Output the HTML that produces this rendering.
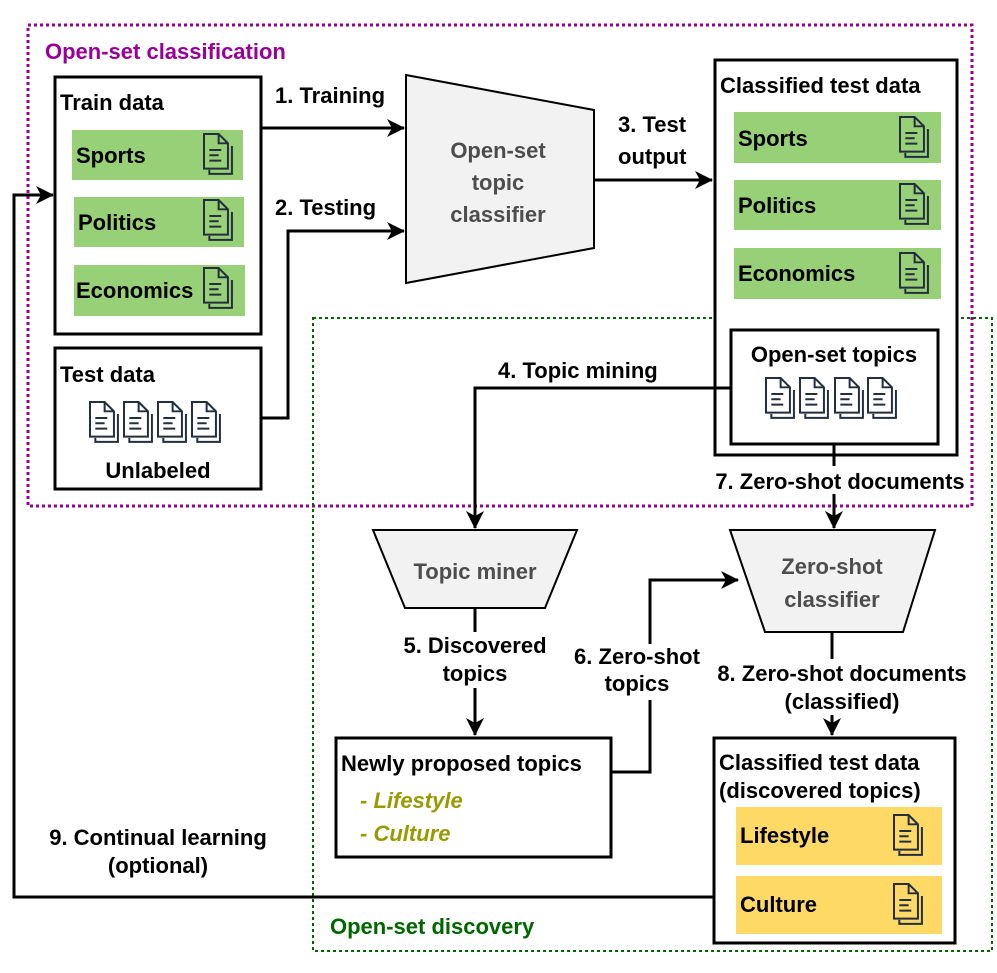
<!DOCTYPE html>
<html><head><meta charset="utf-8"><style>
body{margin:0;background:#fff}
svg{display:block;font-family:"Liberation Sans",sans-serif;font-weight:bold}
</style></head><body>
<svg width="997" height="973" viewBox="0 0 997 973" xmlns="http://www.w3.org/2000/svg">
<defs>
<marker id="ah2" markerWidth="18" markerHeight="18" refX="17" refY="9" orient="auto" markerUnits="userSpaceOnUse" viewBox="0 0 18 18"><path d="M0,0 L18,9 L0,18 L5,9z" fill="#000"/></marker>
<g id="doc">
<path fill="none" stroke="#232f3e" stroke-width="1.5" d="M0,0 H11 L18,7 V26 H0 Z"/><path fill="none" stroke="#232f3e" stroke-width="1.5" d="M11,0 V7 H18"/>
<path fill="none" stroke="#232f3e" stroke-width="1.5" d="M4,12 H13 M4,16 H11 M4,20 H13"/>
<path fill="none" stroke="#232f3e" stroke-width="1.5" d="M21,9 V30 H4 V27"/>
</g>
</defs>
<rect x="28" y="25" width="944" height="481" fill="none" stroke="#990099" stroke-width="3" stroke-dasharray="3,3"/>
<rect x="313" y="318" width="679" height="633" fill="none" stroke="#006600" stroke-width="2" stroke-dasharray="3,3"/>
<text x="45" y="59" font-size="22" fill="#990099">Open-set classification</text>
<text x="330" y="934" font-size="22" fill="#006600">Open-set discovery</text>

<g font-size="22" fill="#000">
<rect x="55" y="77" width="206" height="257" fill="#fff" stroke="#000" stroke-width="3"/>
<text x="60" y="110">Train data</text>
<rect x="72" y="130" width="171" height="50" fill="#97d077"/><text x="76" y="163">Sports</text><use href="#doc" transform="translate(204,134) scale(1.33)"/>
<rect x="74" y="197" width="170" height="50" fill="#97d077"/><text x="78" y="230">Politics</text><use href="#doc" transform="translate(204,200) scale(1.33)"/>
<rect x="74" y="265" width="171" height="51" fill="#97d077"/><text x="76" y="298">Economics</text><use href="#doc" transform="translate(204,268) scale(1.33)"/>
<rect x="55" y="348" width="206" height="141" fill="#fff" stroke="#000" stroke-width="3"/>
<text x="60" y="382">Test data</text>
<use href="#doc" transform="translate(90,402) scale(1.33)"/><use href="#doc" transform="translate(124,402) scale(1.33)"/><use href="#doc" transform="translate(158,402) scale(1.33)"/><use href="#doc" transform="translate(192,402) scale(1.33)"/>
<text x="158" y="478" text-anchor="middle">Unlabeled</text>

<path d="M406,75 L594,110 L594,248 L406,283 Z" fill="#f2f2f2" stroke="#000" stroke-width="2"/>
<g fill="#4d4d4d" text-anchor="middle"><text x="498" y="158">Open-set</text><text x="498" y="190">topic</text><text x="498" y="222">classifier</text></g>

<path d="M261,128 H404" stroke="#000" stroke-width="3" fill="none" marker-end="url(#ah2)"/>
<text x="275" y="103">1. Training</text>
<path d="M261,418 H288 V231 H404" stroke="#000" stroke-width="3" fill="none" marker-end="url(#ah2)"/>
<text x="275" y="215">2. Testing</text>
<path d="M594,180 H712" stroke="#000" stroke-width="3" fill="none" marker-end="url(#ah2)"/>
<text x="618" y="132">3. Test</text><text x="618" y="164">output</text>

<rect x="715" y="60" width="242" height="395" fill="#fff" stroke="#000" stroke-width="3"/>
<text x="720" y="93">Classified test data</text>
<rect x="734" y="112" width="207" height="51" fill="#97d077"/><text x="738" y="146">Sports</text><use href="#doc" transform="translate(900,117) scale(1.33)"/>
<rect x="734" y="180" width="207" height="50" fill="#97d077"/><text x="738" y="213">Politics</text><use href="#doc" transform="translate(900,184) scale(1.33)"/>
<rect x="734" y="248" width="207" height="51" fill="#97d077"/><text x="738" y="281">Economics</text><use href="#doc" transform="translate(900,253) scale(1.33)"/>
<rect x="731" y="330" width="207" height="114" fill="#fff" stroke="#000" stroke-width="3"/>
<text x="834" y="362" text-anchor="middle">Open-set topics</text>
<use href="#doc" transform="translate(766,378) scale(1.33)"/><use href="#doc" transform="translate(800,378) scale(1.33)"/><use href="#doc" transform="translate(835,378) scale(1.33)"/><use href="#doc" transform="translate(868,378) scale(1.33)"/>

<path d="M731,388 H475 V528" stroke="#000" stroke-width="3" fill="none" marker-end="url(#ah2)"/>
<text x="498" y="378">4. Topic mining</text>
<path d="M373,530 L577,530 L545,608 L405,608 Z" fill="#f2f2f2" stroke="#000" stroke-width="2"/>
<text x="475" y="579" text-anchor="middle" fill="#4d4d4d">Topic miner</text>
<path d="M475,608 V735" stroke="#000" stroke-width="3" fill="none" marker-end="url(#ah2)"/>
<rect x="392" y="632" width="166" height="56" fill="#fff"/>
<text x="475" y="653" text-anchor="middle">5. Discovered</text><text x="475" y="681" text-anchor="middle">topics</text>

<rect x="336" y="738" width="275" height="119" fill="#fff" stroke="#000" stroke-width="3"/>
<text x="341" y="771">Newly proposed topics</text>
<g fill="#999900" font-style="italic"><text x="360" y="808">- Lifestyle</text><text x="360" y="841">- Culture</text></g>

<path d="M611,772 H650 V580 H738" stroke="#000" stroke-width="3" fill="none" marker-end="url(#ah2)"/>
<rect x="570" y="644" width="134" height="56" fill="#fff"/>
<text x="637" y="664" text-anchor="middle">6. Zero-shot</text><text x="637" y="691" text-anchor="middle">topics</text>

<path d="M834,444 V528" stroke="#000" stroke-width="3" fill="none" marker-end="url(#ah2)"/>
<rect x="710" y="466" width="260" height="28" fill="#fff"/>
<text x="840" y="489" text-anchor="middle">7. Zero-shot documents</text>
<path d="M730,530 L935,530 L903,632 L765,632 Z" fill="#f2f2f2" stroke="#000" stroke-width="2"/>
<g fill="#4d4d4d" text-anchor="middle"><text x="832" y="574">Zero-shot</text><text x="832" y="607">classifier</text></g>

<path d="M832,632 V735" stroke="#000" stroke-width="3" fill="none" marker-end="url(#ah2)"/>
<rect x="712" y="659" width="260" height="56" fill="#fff"/>
<text x="842" y="681" text-anchor="middle">8. Zero-shot documents</text><text x="842" y="709" text-anchor="middle">(classified)</text>

<rect x="714" y="738" width="241" height="205" fill="#fff" stroke="#000" stroke-width="3"/>
<text x="719" y="770">Classified test data</text><text x="719" y="798">(discovered topics)</text>
<rect x="736" y="807" width="206" height="58" fill="#ffd966"/><text x="740" y="843">Lifestyle</text><use href="#doc" transform="translate(894,815) scale(1.33)"/>
<rect x="736" y="876" width="206" height="58" fill="#ffd966"/><text x="740" y="912">Culture</text><use href="#doc" transform="translate(894,884) scale(1.33)"/>

<path d="M714,897 H14 V195 H53" stroke="#000" stroke-width="3" fill="none" marker-end="url(#ah2)"/>
<text x="158" y="845" text-anchor="middle">9. Continual learning</text><text x="158" y="873" text-anchor="middle">(optional)</text>
</g>
</svg>
</body></html>
